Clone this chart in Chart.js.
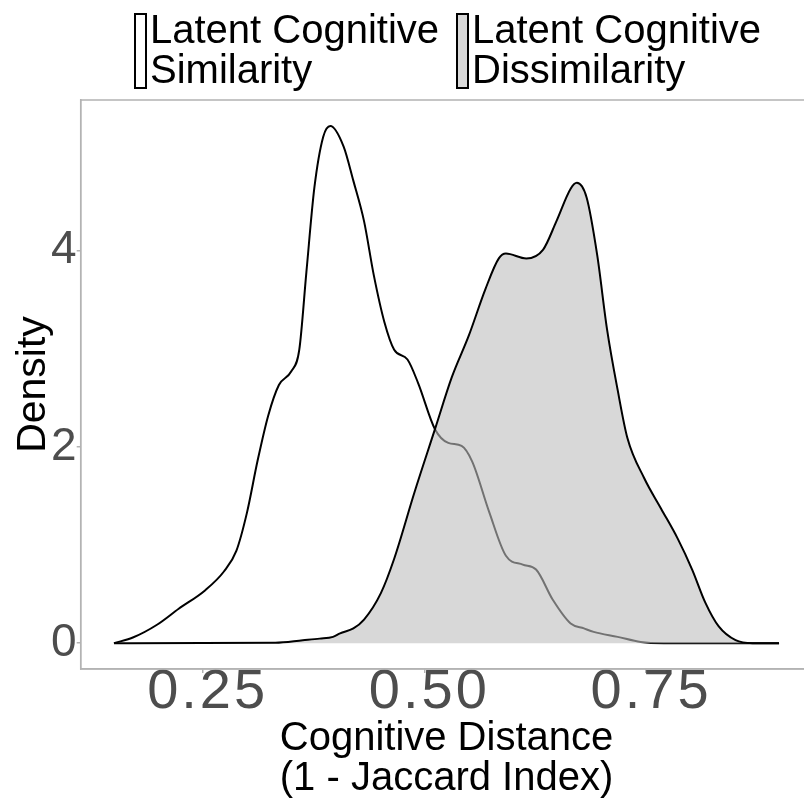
<!DOCTYPE html>
<html>
<head>
<meta charset="utf-8">
<script src="https://cdn.jsdelivr.net/npm/chart.js@4"></script>
<style>
  html, body { margin: 0; padding: 0; background: #fff; overflow: hidden; }
  #wrap { position: relative; width: 820px; height: 803px; }
  .key { position: absolute; top: 9px; font-family: 'Liberation Sans', Arial, sans-serif;
         font-size: 40px; line-height: 40px; color: #000; white-space: nowrap; }
  .key .box { position: absolute; top: 4px; left: -16px; width: 9px; height: 72px;
              border: 2px solid #000; }
</style>
</head>
<body>
<div id="wrap">
  <canvas id="chart"></canvas>
  <div class="key" style="left:150px"><div class="box" style="background:#fff"></div>Latent Cognitive<br>Similarity</div>
  <div class="key" style="left:472px"><div class="box" style="background:#d9d9d9"></div>Latent Cognitive<br>Dissimilarity</div>
</div>
<script>
// density curves
const simX = [0.15, 0.172, 0.199, 0.223, 0.253, 0.274, 0.288, 0.300, 0.312, 0.324, 0.336, 0.350, 0.359, 0.367, 0.376, 0.386, 0.394, 0.409, 0.420, 0.432, 0.443, 0.455, 0.466, 0.481, 0.493, 0.512, 0.527, 0.542, 0.554, 0.573, 0.592, 0.611, 0.626, 0.645, 0.665, 0.680, 0.691, 0.718, 0.744, 0.77, 0.90];
const simY = [0, 0.06, 0.19, 0.35, 0.54, 0.73, 0.94, 1.33, 1.86, 2.32, 2.63, 2.77, 2.99, 3.78, 4.64, 5.16, 5.27, 5.06, 4.71, 4.30, 3.75, 3.27, 2.99, 2.89, 2.65, 2.18, 2.04, 2.01, 1.85, 1.34, 0.89, 0.80, 0.75, 0.44, 0.20, 0.15, 0.115, 0.064, 0.012, 0, 0];

const disX = [0.15, 0.332, 0.363, 0.382, 0.397, 0.405, 0.420, 0.432, 0.451, 0.466, 0.489, 0.512, 0.531, 0.550, 0.569, 0.584, 0.592, 0.615, 0.634, 0.649, 0.665, 0.672, 0.683, 0.695, 0.706, 0.718, 0.729, 0.748, 0.767, 0.786, 0.802, 0.817, 0.832, 0.851, 0.870, 0.90];
const disY = [0, 0.005, 0.03, 0.046, 0.064, 0.10, 0.15, 0.24, 0.51, 0.86, 1.54, 2.18, 2.71, 3.13, 3.61, 3.92, 3.97, 3.92, 4.01, 4.30, 4.63, 4.69, 4.54, 3.95, 3.20, 2.58, 2.09, 1.68, 1.37, 1.06, 0.75, 0.41, 0.17, 0.03, 0, 0];

const xTicks = [0.25, 0.50, 0.75];
const yTicks = [0, 2, 4];

const zip = (xs, ys) => xs.map((x, i) => ({ x: x, y: ys[i] }));

Chart.defaults.font.family = "'Liberation Sans', Arial, sans-serif";

// panel border all round (ggplot style)
const panelBorder = {
  id: 'panelBorder',
  beforeDatasetsDraw(chart) {
    const a = chart.chartArea, ctx = chart.ctx;
    ctx.save();
    ctx.strokeStyle = '#b3b3b3';
    ctx.lineWidth = 1.5;
    ctx.strokeRect(a.left, a.top, a.right - a.left, a.bottom - a.top);
    ctx.restore();
  }
};

// x tick labels in the picture are spaced out a little
function spaceLabels(s) {
  if (s._spaced) return;
  s._spaced = true;
  const orig = s.drawLabels;
  s.drawLabels = function (area) {
    this.ctx.letterSpacing = '3px';
    orig.call(this, area);
    this.ctx.letterSpacing = '0px';
  };
}

new Chart(document.getElementById('chart'), {
  type: 'line',
  data: {
    datasets: [
      {
        label: 'Latent Cognitive Similarity',
        data: zip(simX, simY),
        borderColor: '#000',
        borderWidth: 2,
        fill: false,
        pointRadius: 0,
        cubicInterpolationMode: 'monotone',
        order: 2
      },
      {
        label: 'Latent Cognitive Dissimilarity',
        data: zip(disX, disY),
        borderColor: '#000',
        borderWidth: 2,
        backgroundColor: 'rgba(190,190,190,0.6)',
        fill: 'origin',
        pointRadius: 0,
        cubicInterpolationMode: 'monotone',
        order: 1
      }
    ]
  },
  options: {
    responsive: true,
    maintainAspectRatio: false,
    animation: false,
    layout: { padding: { top: 100, right: 7.7, left: 0, bottom: 0 } },
    plugins: { legend: { display: false }, tooltip: { enabled: false } },
    scales: {
      x: {
        type: 'linear',
        min: 0.1125,
        max: 0.9375,
        afterBuildTicks: s => { s.ticks = xTicks.map(v => ({ value: v })); },
        afterFit: s => { s.height = 134; spaceLabels(s); },
        ticks: {
          color: '#4d4d4d',
          font: { size: 56 },
          padding: -14,
          labelOffset: 5,
          maxRotation: 0,
          callback: v => v.toFixed(2)
        },
        grid: { drawOnChartArea: false, drawTicks: true, tickLength: 4, color: '#b3b3b3', lineWidth: 1.5 },
        border: { display: true, color: '#b3b3b3', width: 1.5 },
        title: {
          display: true,
          text: ['Cognitive Distance', '(1 - Jaccard Index)'],
          color: '#000',
          font: { size: 40, lineHeight: 1 },
          padding: { top: 0, bottom: 4 }
        }
      },
      y: {
        min: -0.2635,
        max: 5.534,
        afterBuildTicks: s => { s.ticks = yTicks.map(v => ({ value: v })); },
        afterFit: s => { s.width = 80.7; },
        ticks: { color: '#4d4d4d', font: { size: 46 }, padding: 0 },
        grid: { drawOnChartArea: false, drawTicks: true, tickLength: 4, color: '#b3b3b3', lineWidth: 1.5 },
        border: { display: true, color: '#b3b3b3', width: 1.5 },
        title: {
          display: true,
          text: 'Density',
          color: '#000',
          font: { size: 41, lineHeight: 1 },
          padding: { top: 13, bottom: 0 }
        }
      }
    }
  },
  plugins: [panelBorder]
});
</script>
</body>
</html>
